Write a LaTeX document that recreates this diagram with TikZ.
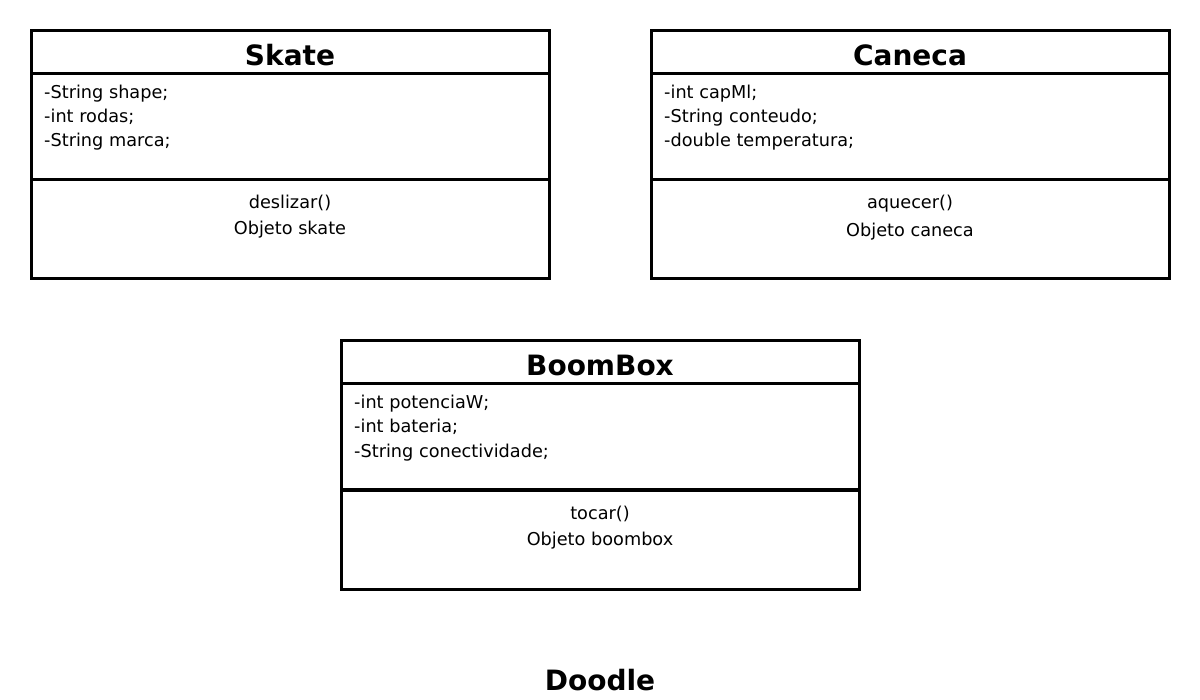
\documentclass[tikz,border=0pt]{standalone}
\usepackage{fontspec}
\setmainfont{DejaVu Sans}
\begin{document}
\begin{tikzpicture}[x=1pt,y=-1pt,
  box/.style={draw=black,line width=3pt,minimum width=518pt,inner sep=0pt,outer sep=0pt,anchor=north west},
  ttl/.style={font=\fontsize{28}{32}\selectfont\bfseries,anchor=base,inner sep=0pt},
  txt/.style={font=\fontsize{17.7}{24}\selectfont,anchor=base west,inner sep=0pt},
  mtxt/.style={font=\fontsize{17.7}{24}\selectfont,anchor=base,inner sep=0pt}]
\useasboundingbox (0,0) rectangle (1200,700);
% Skate
\node[box,minimum height=43pt] (skateT) at (31,31) {};
\node[box,minimum height=106pt] (skateA) at (31,74) {};
\node[box,minimum height=99pt] (skateM) at (31,180) {};
\node[ttl] (skateN) at (290,66) {Skate};
\node[txt] (s1) at (44,99) {-String shape;};
\node[txt] (s2) at (44,123) {-int rodas;};
\node[txt] (s3) at (44,147) {-String marca;};
\node[mtxt] (s4) at (290,209) {deslizar()};
\node[mtxt] (s5) at (290,235) {Objeto skate};
% Caneca
\node[box,minimum height=43pt] (canT) at (651,31) {};
\node[box,minimum height=106pt] (canA) at (651,74) {};
\node[box,minimum height=99pt] (canM) at (651,180) {};
\node[ttl] (canN) at (910,66) {Caneca};
\node[txt] (c1) at (664,99) {-int capMl;};
\node[txt] (c2) at (664,123) {-String conteudo;};
\node[txt] (c3) at (664,147) {-double temperatura;};
\node[mtxt] (c4) at (910,209) {aquecer()};
\node[mtxt] (c5) at (910,237) {Objeto caneca};
% BoomBox
\node[box,minimum height=43pt] (bbT) at (341,341) {};
\node[box,minimum height=106pt] (bbA) at (341,384) {};
\node[box,minimum height=99pt] (bbM) at (341,490) {};
\node[ttl] (bbN) at (600,376) {BoomBox};
\node[txt] (b1) at (354,409) {-int potenciaW;};
\node[txt] (b2) at (354,433) {-int bateria;};
\node[txt] (b3) at (354,457) {-String conectividade;};
\node[mtxt] (b4) at (600,519) {tocar()};
\node[mtxt] (b5) at (600,545) {Objeto boombox};
% Doodle
\node[ttl] (doodle) at (600,690) {Doodle};
\end{tikzpicture}
\end{document}
